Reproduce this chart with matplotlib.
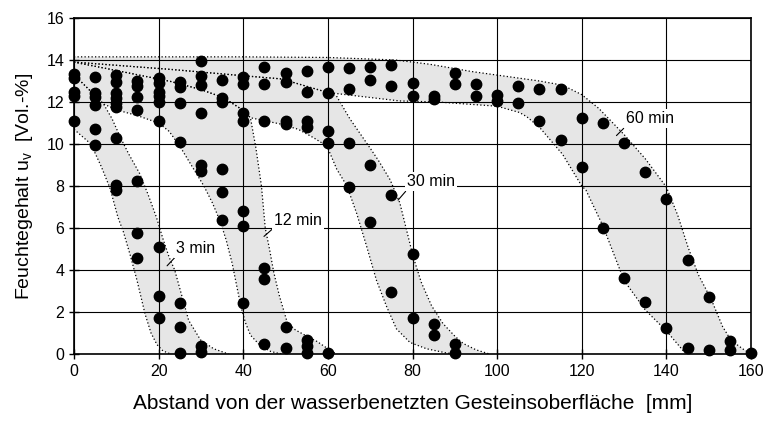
import matplotlib
matplotlib.use('Agg')
import matplotlib.pyplot as plt

plt.rcParams['font.family'] = ['Liberation Sans', 'DejaVu Sans']

# measured points: distance [mm] -> moisture values [Vol.-%]
dist = [0, 5, 10, 15, 20, 25, 30, 35, 40, 45, 50, 55, 60, 65, 70, 75, 80,
        85, 90, 95, 100, 105, 110, 115, 120, 125, 130, 135, 140, 145, 150,
        155, 160]
moisture = [
    [13.35, 13.15, 12.5, 12.3, 11.1],
    [13.2, 12.45, 12.25, 11.85, 10.7, 9.95],
    [13.3, 12.95, 12.45, 12.2, 11.95, 11.75, 10.3, 8.05, 7.8],
    [13.0, 12.75, 12.25, 11.6, 8.25, 5.75, 4.55],
    [13.15, 12.9, 12.5, 12.3, 12.0, 11.1, 5.1, 2.75, 1.7],
    [12.95, 12.7, 11.95, 10.1, 2.45, 1.3, 0.05],
    [13.95, 13.25, 12.8, 11.5, 9.0, 8.7, 0.4, 0.08],
    [13.05, 12.2, 12.0, 8.8, 7.7, 6.4],
    [13.2, 12.85, 11.5, 11.1, 6.8, 6.1, 2.45],
    [13.65, 12.85, 11.1, 4.1, 3.55, 0.5],
    [13.4, 12.95, 11.1, 10.95, 1.3, 0.27],
    [13.5, 12.5, 11.1, 10.8, 0.67, 0.38, 0.06],
    [13.66, 12.44, 10.6, 10.05, 0.06],
    [13.6, 12.6, 10.05, 7.97],
    [13.66, 13.05, 9.0, 6.3],
    [13.77, 12.75, 7.57, 2.95],
    [12.9, 12.3, 4.76, 1.73],
    [12.3, 12.15, 1.42, 0.9],
    [13.37, 12.87, 0.46, 0.06],
    [12.87, 12.3],
    [12.35, 12.05],
    [12.78, 11.93],
    [12.62, 11.1],
    [12.6, 10.2],
    [11.26, 8.9],
    [11.0, 6.0],
    [10.05, 3.6],
    [8.67, 2.48],
    [7.36, 1.23],
    [4.48, 0.29],
    [2.72, 0.19],
    [0.64, 0.19],
    [0.05],
]

# envelope bands (upper / lower outline) for each wetting time
band_3_upper = [(0, 13.3), (3.5, 12.6), (7, 11.9), (9, 11.2), (11, 10.3), (13, 9.5),
                (15.5, 8.6), (17.5, 7.6), (19.5, 6.5), (21, 5.5), (22.5, 4.6),
                (23.8, 4.0), (25.1, 3.05), (27.1, 1.6), (29.9, 0.67), (33, 0.25),
                (36.5, 0)]
band_3_lower = [(0, 10.7), (4, 10.0), (6.5, 8.9), (8.5, 7.9), (10.4, 6.5), (11.7, 5.8),
                (13.3, 4.7), (14.9, 3.5), (16.8, 1.9), (18.2, 1.0), (19.6, 0.45),
                (21, 0.15), (22.8, 0)]
band_12_upper = [(0, 13.9), (10, 13.5), (22.8, 12.98), (29.9, 12.6), (35.4, 12.2),
                 (40, 11.6), (41.7, 11.25), (43, 9.8), (44.3, 8.0), (45.2, 6.0),
                 (46.2, 5.0), (47.2, 3.9), (48.5, 2.8), (50.4, 1.5), (52.3, 1.15),
                 (55, 0.85), (57.4, 0.6), (60, 0.25), (62, 0)]
band_12_lower = [(0, 13.3), (3.5, 12.6), (7, 11.9), (10.5, 11.6), (15, 11.35),
                 (20, 11.0), (22.5, 10.6), (25, 9.9), (28, 8.9), (30.7, 8.0),
                 (32.7, 7.2), (34.6, 6.3), (36, 5.4), (37.4, 4.3), (38.5, 3.2),
                 (39.4, 2.3), (40.5, 1.5), (41.7, 0.9), (44, 0.4), (46.5, 0.12),
                 (49, 0)]
band_30_upper = [(0, 13.9), (23, 13.55), (40, 13.25), (49, 13.1), (60, 12.45),
                 (62, 12.3), (65.2, 11.2), (70, 9.8), (72, 9.2), (74.7, 8.3),
                 (77, 7.2), (78.6, 5.9), (80.2, 4.6), (82.1, 3.4), (84.5, 2.3),
                 (87.2, 1.45), (90, 0.85), (92, 0.5), (95, 0.2), (98.2, 0)]
band_30_lower = [(0, 13.9), (10, 13.5), (22.8, 12.98), (29.9, 12.6), (35.4, 12.2),
                 (40, 11.6), (41.7, 11.25), (48.8, 10.95), (53, 10.7), (56.6, 10.3),
                 (59, 10.0), (60, 9.8), (62.1, 8.8), (64.5, 8.0), (66.8, 6.7),
                 (69.2, 5.1), (71.5, 3.5), (73.9, 2.25), (76.2, 1.2), (79.4, 0.55),
                 (83.3, 0.25), (88, 0.05), (90, 0)]
band_60_upper = [(0, 14.15), (40, 14.15), (60, 14.12), (76, 14.0), (84, 13.8),
                 (94, 13.45), (110, 13.0), (115.5, 12.8), (120, 12.35), (124, 11.7),
                 (130, 10.45), (135, 9.3), (140, 7.95), (142.7, 6.6), (145.1, 5.1),
                 (147.5, 3.8), (150.6, 2.6), (153.3, 1.3), (155.3, 0.65), (158, 0.25),
                 (160, 0)]
band_60_lower = [(0, 13.9), (23, 13.55), (40, 13.25), (49, 13.1), (60, 12.45),
                 (77, 12.05), (86, 12.0), (100, 11.8), (105.3, 11.5), (107, 11.3),
                 (110, 10.8), (115.5, 9.5), (120, 8.0), (121, 7.8), (125, 6.1),
                 (127.5, 4.8), (130, 3.5), (135, 2.1), (140, 1.1), (144, 0.15),
                 (146, 0)]

bands = [(band_3_upper, band_3_lower), (band_12_upper, band_12_lower),
         (band_30_upper, band_30_lower), (band_60_upper, band_60_lower)]

fig = plt.figure(figsize=(7.69, 4.24), dpi=100)
ax = fig.add_axes([74 / 769, 1 - 354 / 424, (751 - 74) / 769, (354 - 18) / 424])

for upper, lower in bands:
    ux, uy = zip(*upper)
    lx, ly = zip(*lower)
    ax.fill(list(ux) + list(lx[::-1]), list(uy) + list(ly[::-1]),
            color='#e6e6e6', lw=0, zorder=1)
for upper, lower in bands:
    for line in (upper, lower):
        x, y = zip(*line)
        ax.plot(x, y, color='k', ls=(0, (1, 1.8)), lw=0.9, zorder=2)

xs = [d for d, vals in zip(dist, moisture) for _ in vals]
ys = [v for vals in moisture for v in vals]
ax.plot(xs, ys, 'o', color='k', ms=7.5, ls='none', zorder=3, clip_on=False)

box = dict(fc='white', ec='none', pad=1.5)
arrow = dict(arrowstyle='-', lw=0.8, color='k', relpos=(0, 0), shrinkA=0, shrinkB=0)
ax.annotate('3 min', xy=(22, 4.2), xytext=(24.2, 5.03), fontsize=11.5,
            va='center', ha='left', bbox=box, arrowprops=arrow, zorder=4)
ax.annotate('12 min', xy=(44.9, 5.6), xytext=(47.3, 6.38), fontsize=11.5,
            va='center', ha='left', bbox=box, arrowprops=arrow, zorder=4)
ax.annotate('30 min', xy=(76.6, 7.33), xytext=(78.8, 8.2), fontsize=11.5,
            va='center', ha='left', bbox=box, arrowprops=arrow, zorder=4)
ax.annotate('60 min', xy=(128.2, 10.4), xytext=(130.4, 11.2), fontsize=11.5,
            va='center', ha='left', bbox=box, arrowprops=arrow, zorder=4)

ax.set_xlim(0, 160)
ax.set_ylim(0, 16)
ax.set_xticks(range(0, 161, 20))
ax.set_yticks(range(0, 17, 2))
ax.grid(True, color='k', lw=0.8)
ax.tick_params(direction='inout', length=7, width=1, labelsize=11.5)
for s in ax.spines.values():
    s.set_linewidth(1.2)

ax.set_xlabel('Abstand von der wasserbenetzten Gesteinsoberfläche  [mm]',
              fontsize=15, labelpad=11)
ax.set_ylabel(r'Feuchtegehalt u$_{\mathregular{v}}$  [Vol.-%]', fontsize=14,
              labelpad=8)

fig.savefig('out.png', dpi=100)
